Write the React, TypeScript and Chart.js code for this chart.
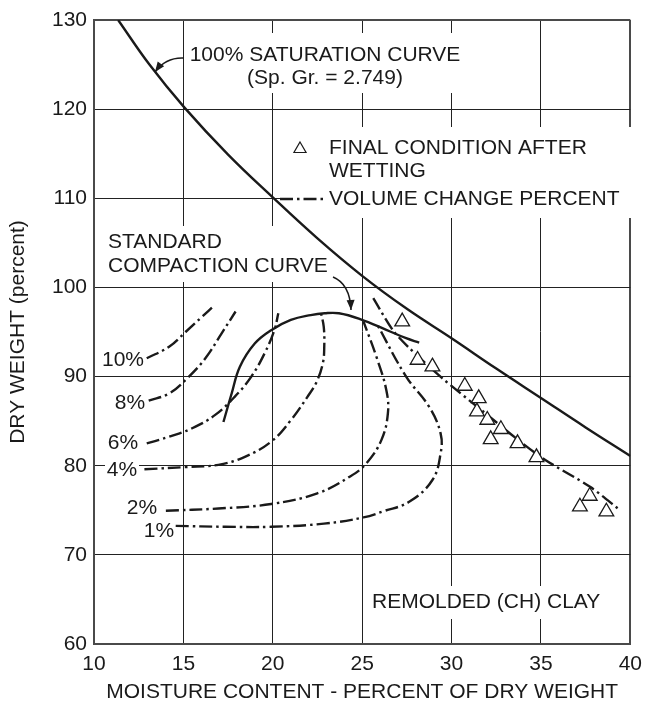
import React, { useEffect, useRef } from "react";
import { Chart, registerables } from "chart.js";

Chart.register(...registerables);

// ---- axes ----
const X_MIN = 10;
const X_MAX = 40;
const X_STEP = 5;
const Y_MIN = 60;
const Y_MAX = 130;
const Y_STEP = 10;

// ---- curves (moisture %, dry weight) ----
const saturationCurve: [number, number][] = [
  [11.35, 130], [13.1, 125.0], [15.05, 120.2], [17.5, 114.9], [20, 110.1],
  [22.5, 105.5], [25, 101.3], [27.5, 97.6], [30, 94.3], [32.5, 90.9],
  [35, 87.6], [37.5, 84.3], [40, 81.1],
];

const compactionCurve: [number, number][] = [
  [17.24, 84.9], [17.7, 88.1], [18.16, 91.1], [18.99, 93.7], [19.91, 95.2],
  [21.01, 96.35], [22.12, 96.9], [22.9, 97.1], [23.7, 97.1], [24.88, 96.45],
  [26.35, 95.25], [27.46, 94.3], [28.19, 93.8],
];

const change10: [number, number][] = [
  [12.95, 92.05], [14.2, 93.35], [15.12, 95.0], [16.04, 96.7], [16.74, 98.0],
];
const change8: [number, number][] = [
  [13.06, 87.3], [14.2, 88.1], [15.21, 89.8], [16.23, 92.05], [17.14, 94.85], [17.92, 97.3],
];
const change6: [number, number][] = [
  [12.95, 82.5], [14.2, 83.25], [15.49, 84.2], [16.78, 85.7], [17.88, 87.75],
  [18.8, 90.0], [19.54, 92.6], [20.09, 95.2], [20.31, 97.1],
];
const change4: [number, number][] = [
  [12.82, 79.6], [15.12, 79.85], [16.96, 80.1], [18.44, 81.0], [19.91, 82.7],
  [21.01, 85.1], [21.93, 87.7], [22.45, 89.4], [22.8, 91.5], [22.88, 93.4],
  [22.85, 95.6], [22.7, 97.1],
];
const change2: [number, number][] = [
  [14.02, 74.95], [16.96, 75.2], [19.91, 75.7], [22.49, 76.9], [24.33, 78.8],
  [25.25, 80.3], [26.08, 82.9], [26.44, 85.9], [26.35, 88.5], [25.8, 92.2], [25.07, 96.2],
];
const change1: [number, number][] = [
  [14.57, 73.25], [17.33, 73.15], [19.91, 73.15], [22.86, 73.5], [25.07, 74.2],
  [26.2, 74.9], [27.63, 75.95], [28.93, 78.4], [29.39, 81.4], [29.39, 83.6],
  [28.75, 86.6], [27.46, 90.0], [25.8, 96.0],
];
const wettingLine: [number, number][] = [
  [25.62, 98.8], [26.72, 95.2], [27.64, 93.2], [29.49, 89.8], [31.88, 85.9],
  [33.72, 82.9], [35.2, 80.7], [37.77, 77.6], [39.43, 75.0],
];

// ---- final condition after wetting (triangles) ----
const finalX = [27.24, 28.1, 28.93, 30.74, 31.52, 31.42, 32.0, 32.76, 32.19, 33.69, 34.75, 37.73, 37.18, 38.66];
const finalY = [96.16, 91.86, 91.11, 88.94, 87.56, 86.06, 85.13, 84.09, 82.96, 82.51, 80.94, 76.6, 75.4, 74.84];

const INK = "#1a1a1a";
const FAMILY = '"Liberation Sans", Arial, Helvetica, sans-serif';
const FONT = `21px ${FAMILY}`;
const DASH_DOT = [13, 4, 2.5, 4];

const toXY = (pts: [number, number][]) => pts.map(([x, y]) => ({ x, y }));

function arrow(ctx: CanvasRenderingContext2D, x0: number, y0: number, cx: number, cy: number, x1: number, y1: number) {
  ctx.beginPath();
  ctx.moveTo(x0, y0);
  ctx.quadraticCurveTo(cx, cy, x1, y1);
  ctx.stroke();
  const ang = Math.atan2(y1 - cy, x1 - cx);
  const len = 10;
  const half = 4;
  ctx.beginPath();
  ctx.moveTo(x1, y1);
  ctx.lineTo(x1 - len * Math.cos(ang) + half * Math.sin(ang), y1 - len * Math.sin(ang) - half * Math.cos(ang));
  ctx.lineTo(x1 - len * Math.cos(ang) - half * Math.sin(ang), y1 - len * Math.sin(ang) + half * Math.cos(ang));
  ctx.closePath();
  ctx.fill();
}

const annotationPlugin = {
  id: "annotations",
  beforeDatasetsDraw(chart: any) {
    const ctx: CanvasRenderingContext2D = chart.ctx;
    ctx.save();
    ctx.fillStyle = "#ffffff";
    const boxes = [
      [186, 33, 277, 60],
      [281, 127, 354, 91],
      [104, 226, 228, 56],
      [369, 586, 238, 33],
      [105, 458, 34, 24],
    ];
    for (const [x, y, w, h] of boxes) ctx.fillRect(x, y, w, h);
    ctx.restore();
  },
  afterDatasetsDraw(chart: any) {
    const ctx: CanvasRenderingContext2D = chart.ctx;
    ctx.save();
    ctx.fillStyle = INK;
    ctx.strokeStyle = INK;
    ctx.font = FONT;
    ctx.textBaseline = "middle";

    ctx.textAlign = "center";
    ctx.fillText("100% SATURATION CURVE", 325, 55);
    ctx.fillText("(Sp. Gr. = 2.749)", 325, 78);

    ctx.textAlign = "left";
    ctx.fillText("FINAL CONDITION AFTER", 329, 148);
    ctx.fillText("WETTING", 329, 171);
    ctx.fillText("VOLUME CHANGE PERCENT", 329, 199);
    ctx.fillText("STANDARD", 108, 242);
    ctx.fillText("COMPACTION CURVE", 108, 266);
    ctx.fillText("REMOLDED (CH) CLAY", 372, 602);

    ctx.textAlign = "center";
    ctx.fillText("10%", 123, 360);
    ctx.fillText("8%", 130, 403);
    ctx.fillText("6%", 123, 443);
    ctx.fillText("4%", 122, 470);
    ctx.fillText("2%", 142, 508);
    ctx.fillText("1%", 159, 531);

    // arrows
    ctx.lineWidth = 1.5;
    arrow(ctx, 184, 58, 166, 57, 155, 72);
    arrow(ctx, 333, 277, 350, 284, 351, 310);

    // legend: triangle
    const tx = 300, ty = 149, r = 7;
    ctx.beginPath();
    ctx.moveTo(tx, ty - r);
    ctx.lineTo(tx + r * 0.866, ty + r * 0.5);
    ctx.lineTo(tx - r * 0.866, ty + r * 0.5);
    ctx.closePath();
    ctx.fillStyle = "#fff";
    ctx.fill();
    ctx.lineWidth = 1.2;
    ctx.stroke();

    // legend: dash-dot sample
    ctx.lineWidth = 2.5;
    ctx.setLineDash(DASH_DOT);
    ctx.beginPath();
    ctx.moveTo(280, 199);
    ctx.lineTo(325, 199);
    ctx.stroke();
    ctx.setLineDash([]);
    ctx.restore();
  },
};

export default function App() {
  const ref = useRef<HTMLCanvasElement | null>(null);

  useEffect(() => {
    document.body.style.margin = "0";
    const canvas = ref.current;
    if (!canvas) return;

    const solid = (pts: [number, number][], width: number) => ({
      data: toXY(pts),
      showLine: true,
      borderColor: INK,
      borderWidth: width,
      pointRadius: 0,
      tension: 0.4,
      fill: false,
      order: 2,
    });
    const dashed = (pts: [number, number][], tension = 0.4) => ({
      data: toXY(pts),
      showLine: true,
      borderColor: INK,
      borderWidth: 2.4,
      borderDash: DASH_DOT,
      pointRadius: 0,
      tension,
      fill: false,
      order: 3,
    });

    const edgeX = (v: number) => v === X_MAX;
    const edgeY = (v: number) => v === Y_MAX;

    const chart = new Chart(canvas, {
      type: "scatter",
      data: {
        datasets: [
          {
            data: finalX.map((x, i) => ({ x, y: finalY[i] })),
            showLine: false,
            pointStyle: "triangle",
            pointRadius: 8.5,
            pointBorderWidth: 1.3,
            pointBorderColor: INK,
            pointBackgroundColor: "#ffffff",
            order: 0,
          } as any,
          solid(saturationCurve, 2.4),
          solid(compactionCurve, 2.4),
          dashed(change10),
          dashed(change8),
          dashed(change6),
          dashed(change4),
          dashed(change2),
          dashed(change1),
          dashed(wettingLine, 0.3),
        ],
      },
      options: {
        responsive: false,
        animation: false,
        events: [],
        layout: { padding: { top: 20, right: 13, left: 0, bottom: 0 } },
        plugins: { legend: { display: false }, tooltip: { enabled: false } },
        scales: {
          x: {
            type: "linear",
            min: X_MIN,
            max: X_MAX,
            ticks: {
              stepSize: X_STEP,
              padding: 8,
              color: INK,
              font: { family: FAMILY, size: 21 },
            },
            grid: {
              drawTicks: false,
              color: (c: any) => (c.tick && edgeX(c.tick.value) ? "#4a4a4a" : "#222"),
              lineWidth: (c: any) => (c.tick && edgeX(c.tick.value) ? 2 : 1),
            },
            border: { color: "#4a4a4a", width: 2 },
            title: {
              display: true,
              text: "MOISTURE CONTENT - PERCENT OF DRY WEIGHT",
              color: INK,
              font: { family: FAMILY, size: 21, lineHeight: 0.8 },
              padding: { top: 0, bottom: 0 },
            },
            afterFit: (s: any) => {
              s.height = 57;
            },
          },
          y: {
            type: "linear",
            min: Y_MIN,
            max: Y_MAX,
            ticks: {
              stepSize: Y_STEP,
              padding: 7,
              color: INK,
              font: { family: FAMILY, size: 21 },
            },
            grid: {
              drawTicks: false,
              color: (c: any) => (c.tick && edgeY(c.tick.value) ? "#4a4a4a" : "#222"),
              lineWidth: (c: any) => (c.tick && edgeY(c.tick.value) ? 2 : 1),
            },
            border: { color: "#4a4a4a", width: 2 },
            title: {
              display: true,
              text: "DRY WEIGHT (percent)",
              color: INK,
              font: { family: FAMILY, size: 21, lineHeight: 1 },
              padding: { top: 8, bottom: 0 },
            },
            afterFit: (s: any) => {
              s.width = 94;
            },
          },
        },
      },
      plugins: [annotationPlugin],
    } as any);

    return () => chart.destroy();
  }, []);

  return (
    <div style={{ width: 650, height: 701, background: "#fff" }}>
      <canvas ref={ref} width={650} height={701} style={{ display: "block" }} />
    </div>
  );
}
